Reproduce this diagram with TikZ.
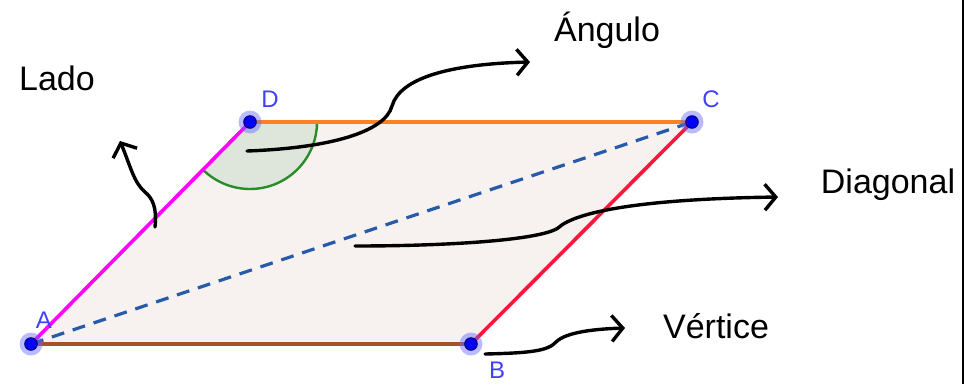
\documentclass[tikz,border=0pt]{standalone}
\usepackage{fontspec}
\setmainfont{Liberation Sans}
\usetikzlibrary{arrows.meta}
\definecolor{fillpar}{RGB}{247,242,240}
\definecolor{angfill}{RGB}{222,230,220}
\definecolor{anggreen}{RGB}{40,140,40}
\definecolor{edgeDC}{RGB}{255,128,32}
\definecolor{edgeCB}{RGB}{255,20,60}
\definecolor{edgeAB}{RGB}{165,82,40}
\definecolor{edgeAD}{RGB}{255,0,255}
\definecolor{diagblue}{RGB}{40,90,170}
\definecolor{ptlabel}{RGB}{64,64,255}
\begin{document}
\begin{tikzpicture}[x=1pt,y=-1pt,
  word/.style={font=\fontsize{34}{40}\selectfont, text=black, inner sep=0pt},
  ptname/.style={font=\fontsize{24}{28}\selectfont, text=ptlabel, inner sep=0pt},
  curly/.style={black, line width=3.4pt, line cap=round, -{Straight Barb[length=11pt,width=26pt,line width=3.4pt]}},
  halo/.style={circle, fill=blue!60, opacity=0.45, minimum size=23pt, inner sep=0pt},
  dot/.style={circle, fill=blue, draw=blue!40!black, line width=1pt, minimum size=12.5pt, inner sep=0pt}
]
\useasboundingbox (0,0) rectangle (964,384);
\fill[black] (962,0) rectangle (964,384);

\coordinate (A) at (31,344);
\coordinate (B) at (471,344);
\coordinate (C) at (692,122);
\coordinate (D) at (250,122);

% parallelogram fill
\fill[fillpar] (A) -- (B) -- (C) -- (D) -- cycle;
% angle at D
\fill[angfill] (D) -- ++(0:67) arc[start angle=0, end angle=134.6, radius=67] -- cycle;
\draw[anggreen, line width=2.4pt] (D) ++(0:67) arc[start angle=0, end angle=134.6, radius=67];

% edges
\draw[edgeAB, line width=4pt] (A) -- (B);
\draw[edgeCB, line width=3.6pt] (B) -- (C);
\draw[edgeDC, line width=4.6pt] (C) -- (D);
\draw[edgeAD, line width=3.6pt] (D) -- (A);
\draw[diagblue, line width=3.2pt, dash pattern=on 13pt off 9pt] (A) -- (C);

% texts
\node[word] (lado) at (57,78) {Lado};
\node[word] (angulo) at (607,30) {Ángulo};
\node[word] (diagonal) at (888,185) {Diagonal};
\node[word] (vertice) at (716,326) {Vértice};

% arrow anchors
\coordinate (s1) at (155,227);
\coordinate (e1) at (120,141);
\coordinate (s2) at (247,151);
\coordinate (e2) at (530,62);
\coordinate (s3) at (355,246);
\coordinate (e3) at (778,197);
\coordinate (s4) at (485,354);
\coordinate (e4) at (625,328);

\draw[curly] (s1) .. controls (157,206) and (152,198) .. (145,192) .. controls (134,183) and (130,165) .. (e1);
\draw[curly] (s2) .. controls (330,148) and (385,132) .. (392,106) .. controls (400,78) and (450,64) .. (e2);
\draw[curly] (s3) .. controls (450,246) and (540,240) .. (558,228) .. controls (575,212) and (640,199) .. (e3);
\draw[curly] (s4) .. controls (530,353) and (548,351) .. (556,342) .. controls (566,332) and (595,329) .. (e4);

% points
\foreach \p in {A,B,C,D} {
  \node[halo] at (\p) {};
  \node[dot] (dot\p) at (\p) {};
}
\node[ptname] (labA) at (44,320) {A};
\node[ptname] (labB) at (497,370) {B};
\node[ptname] (labC) at (711,99) {C};
\node[ptname] (labD) at (270,99) {D};
\end{tikzpicture}
\end{document}
